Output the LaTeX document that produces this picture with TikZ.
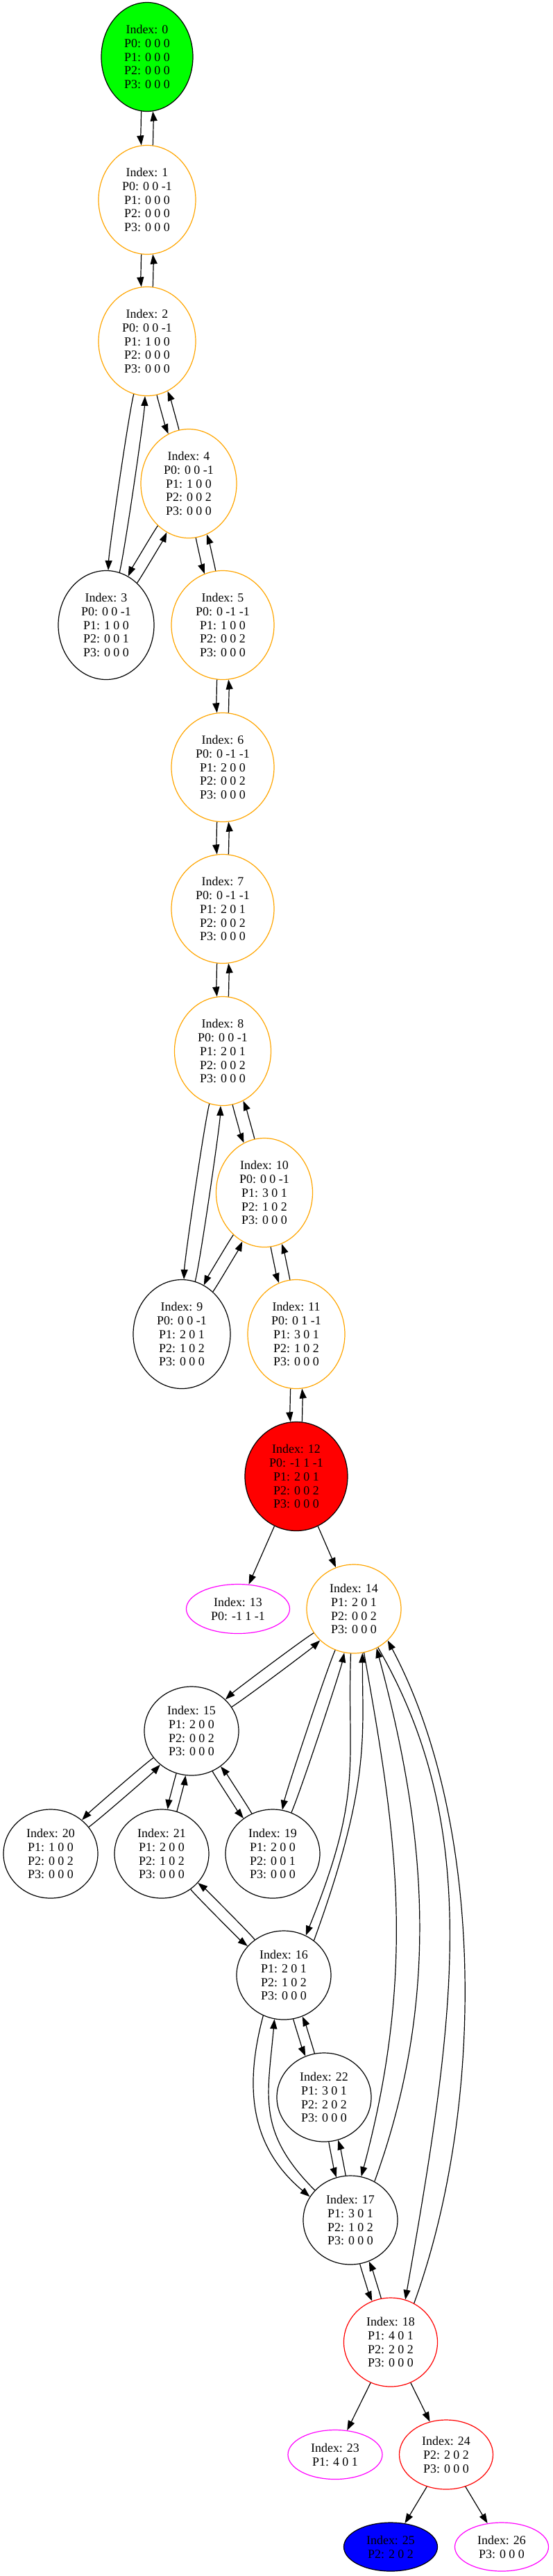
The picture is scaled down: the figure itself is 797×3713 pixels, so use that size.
\documentclass[tikz,border=0pt]{standalone}
\usepackage{fontspec}
\setmainfont{Liberation Serif}
\usetikzlibrary{arrows.meta,shapes.geometric}
\definecolor{gvorange}{RGB}{255,165,0}
\definecolor{gvgreen}{RGB}{0,255,0}
\definecolor{gvred}{RGB}{255,0,0}
\definecolor{gvmagenta}{RGB}{255,0,255}
\definecolor{gvblue}{RGB}{0,0,255}

\begin{document}
\begin{tikzpicture}[x=1pt,y=1pt,
  stnode/.style={draw,ellipse,inner sep=0pt,line width=1.2pt,align=center,
    font=\fontsize{17.9}{19.9}\selectfont},
  fiverow/.style={stnode,minimum width=140pt,minimum height=157pt},
  fourrow/.style={stnode,minimum width=136pt,minimum height=128pt},
  threerow/.style={stnode,minimum width=135pt,minimum height=100pt},
  tworow/.style={stnode,minimum width=136pt,minimum height=71pt},
  arr/.style={-{Triangle[length=14pt,width=10pt]},line width=1.2pt},
  twoway/.style={arr,bend right=6,looseness=0.3}
]
  \useasboundingbox (0,0) rectangle (797,-3713);
  % States
  \node[fiverow,fill=gvgreen,minimum width=132pt] (n0) at (212,-82) {Index: 0\\P0: 0 0 0\\P1: 0 0 0\\P2: 0 0 0\\P3: 0 0 0};
  \node[fiverow,draw=gvorange] (n1) at (212,-288) {Index: 1\\P0: 0 0 -1\\P1: 0 0 0\\P2: 0 0 0\\P3: 0 0 0};
  \node[fiverow,draw=gvorange] (n2) at (212,-492) {Index: 2\\P0: 0 0 -1\\P1: 1 0 0\\P2: 0 0 0\\P3: 0 0 0};
  \node[fiverow,draw=gvorange,minimum width=138pt] (n4) at (272,-697) {Index: 4\\P0: 0 0 -1\\P1: 1 0 0\\P2: 0 0 2\\P3: 0 0 0};
  \node[fiverow,minimum width=138pt] (n3) at (153,-901) {Index: 3\\P0: 0 0 -1\\P1: 1 0 0\\P2: 0 0 1\\P3: 0 0 0};
  \node[fiverow,draw=gvorange,minimum width=148pt] (n5) at (321,-901) {Index: 5\\P0: 0 -1 -1\\P1: 1 0 0\\P2: 0 0 2\\P3: 0 0 0};
  \node[fiverow,draw=gvorange,minimum width=148pt] (n6) at (321,-1106) {Index: 6\\P0: 0 -1 -1\\P1: 2 0 0\\P2: 0 0 2\\P3: 0 0 0};
  \node[fiverow,draw=gvorange,minimum width=148pt] (n7) at (321,-1310) {Index: 7\\P0: 0 -1 -1\\P1: 2 0 1\\P2: 0 0 2\\P3: 0 0 0};
  \node[fiverow,draw=gvorange,minimum width=139pt] (n8) at (321,-1515) {Index: 8\\P0: 0 0 -1\\P1: 2 0 1\\P2: 0 0 2\\P3: 0 0 0};
  \node[fiverow,draw=gvorange,minimum width=139pt] (n10) at (381,-1719) {Index: 10\\P0: 0 0 -1\\P1: 3 0 1\\P2: 1 0 2\\P3: 0 0 0};
  \node[fiverow] (n9) at (262,-1923) {Index: 9\\P0: 0 0 -1\\P1: 2 0 1\\P2: 1 0 2\\P3: 0 0 0};
  \node[fiverow,draw=gvorange] (n11) at (427,-1923) {Index: 11\\P0: 0 1 -1\\P1: 3 0 1\\P2: 1 0 2\\P3: 0 0 0};
  \node[fiverow,fill=gvred,minimum width=148pt] (n12) at (427,-2128) {Index: 12\\P0: -1 1 -1\\P1: 2 0 1\\P2: 0 0 2\\P3: 0 0 0};
  \node[tworow,draw=gvmagenta,minimum width=149pt] (n13) at (343,-2319) {Index: 13\\P0: -1 1 -1};
  \node[fourrow,draw=gvorange] (n14) at (510,-2319) {Index: 14\\P1: 2 0 1\\P2: 0 0 2\\P3: 0 0 0};
  \node[fourrow] (n15) at (276,-2495) {Index: 15\\P1: 2 0 0\\P2: 0 0 2\\P3: 0 0 0};
  \node[fourrow] (n20) at (73,-2672) {Index: 20\\P1: 1 0 0\\P2: 0 0 2\\P3: 0 0 0};
  \node[fourrow] (n21) at (233,-2672) {Index: 21\\P1: 2 0 0\\P2: 1 0 2\\P3: 0 0 0};
  \node[fourrow] (n19) at (393,-2672) {Index: 19\\P1: 2 0 0\\P2: 0 0 1\\P3: 0 0 0};
  \node[fourrow] (n16) at (409,-2847) {Index: 16\\P1: 2 0 1\\P2: 1 0 2\\P3: 0 0 0};
  \node[fourrow] (n22) at (467,-3023) {Index: 22\\P1: 3 0 1\\P2: 2 0 2\\P3: 0 0 0};
  \node[fourrow] (n17) at (505,-3200) {Index: 17\\P1: 3 0 1\\P2: 1 0 2\\P3: 0 0 0};
  \node[fourrow,draw=gvred,minimum width=135pt] (n18) at (563,-3376) {Index: 18\\P1: 4 0 1\\P2: 2 0 2\\P3: 0 0 0};
  \node[tworow,draw=gvmagenta] (n23) at (483,-3538) {Index: 23\\P1: 4 0 1};
  \node[threerow,draw=gvred] (n24) at (643,-3538) {Index: 24\\P2: 2 0 2\\P3: 0 0 0};
  \node[tworow,fill=gvblue,minimum width=135pt,minimum height=70pt] (n25) at (563,-3671) {Index: 25\\P2: 2 0 2};
  \node[tworow,draw=gvmagenta,minimum width=135pt,minimum height=70pt] (n26) at (723,-3671) {Index: 26\\P3: 0 0 0};
  % Two-way moves
  \draw[twoway] (n0) to (n1);
  \draw[twoway] (n1) to (n0);
  \draw[twoway] (n1) to (n2);
  \draw[twoway] (n2) to (n1);
  \draw[twoway] (n2) to (n3);
  \draw[twoway] (n3) to (n2);
  \draw[twoway] (n2) to (n4);
  \draw[twoway] (n4) to (n2);
  \draw[twoway] (n4) to (n3);
  \draw[twoway] (n3) to (n4);
  \draw[twoway] (n4) to (n5);
  \draw[twoway] (n5) to (n4);
  \draw[twoway] (n5) to (n6);
  \draw[twoway] (n6) to (n5);
  \draw[twoway] (n6) to (n7);
  \draw[twoway] (n7) to (n6);
  \draw[twoway] (n7) to (n8);
  \draw[twoway] (n8) to (n7);
  \draw[twoway] (n8) to (n9);
  \draw[twoway] (n9) to (n8);
  \draw[twoway] (n8) to (n10);
  \draw[twoway] (n10) to (n8);
  \draw[twoway] (n10) to (n9);
  \draw[twoway] (n9) to (n10);
  \draw[twoway] (n10) to (n11);
  \draw[twoway] (n11) to (n10);
  \draw[twoway] (n11) to (n12);
  \draw[twoway] (n12) to (n11);
  \draw[twoway] (n14) to (n15);
  \draw[twoway] (n15) to (n14);
  \draw[twoway] (n14) to (n19);
  \draw[twoway] (n19) to (n14);
  \draw[twoway] (n15) to (n20);
  \draw[twoway] (n20) to (n15);
  \draw[twoway] (n15) to (n21);
  \draw[twoway] (n21) to (n15);
  \draw[twoway] (n15) to (n19);
  \draw[twoway] (n19) to (n15);
  \draw[twoway] (n21) to (n16);
  \draw[twoway] (n16) to (n21);
  \draw[twoway] (n16) to (n22);
  \draw[twoway] (n22) to (n16);
  \draw[twoway] (n22) to (n17);
  \draw[twoway] (n17) to (n22);
  \draw[twoway] (n17) to (n18);
  \draw[twoway] (n18) to (n17);
  % One-way moves
  \draw[arr] (n12) -- (n13);
  \draw[arr] (n12) -- (n14);
  \draw[arr] (n18) -- (n23);
  \draw[arr] (n18) -- (n24);
  \draw[arr] (n24) -- (n25);
  \draw[arr] (n24) -- (n26);
  % Long curved moves
  \draw[arr] (n14.-94) .. controls +(-92:160) and +(68:224) .. (n16.61);
  \draw[arr] (n16.49) .. controls +(70:240) and +(-90:120) .. (n14.-79);
  \draw[arr] (n14.-77) .. controls +(-80:250) and +(75:320) .. (n17.76);
  \draw[arr] (n17.58) .. controls +(70:300) and +(-75:250) .. (n14.-60);
  \draw[arr] (n14.-58) .. controls +(-60:300) and +(80:420) .. (n18.71);
  \draw[arr] (n18.59) .. controls +(70:300) and +(-62:300) .. (n14.-43);
  \draw[arr] (n16.-117) .. controls +(-105:110) and +(140:110) .. (n17.150);
  \draw[arr] (n17.140) .. controls +(135:120) and +(-95:110) .. (n16.-102);
\end{tikzpicture}
\end{document}
